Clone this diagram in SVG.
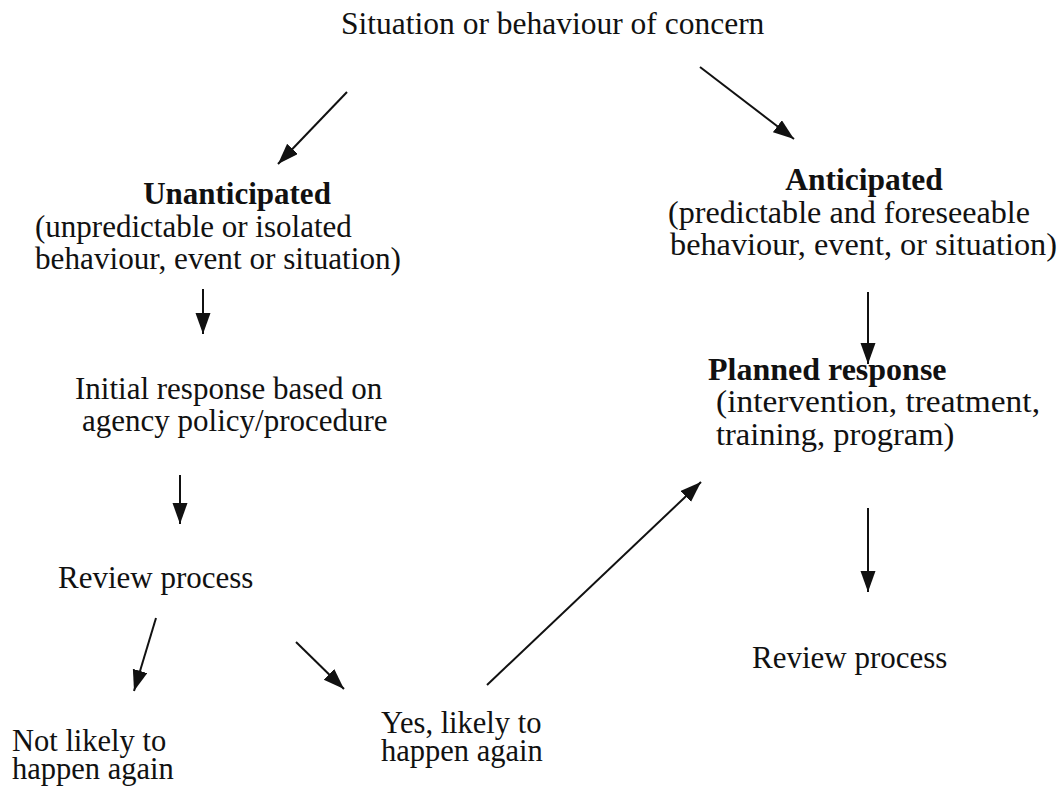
<svg xmlns="http://www.w3.org/2000/svg" width="1062" height="799" viewBox="0 0 1062 799">
<style>
text{font-family:"Liberation Serif","Times New Roman",serif;font-size:31px;fill:#111}
.b{font-weight:bold}
.r{font-size:32.5px}
.s{font-size:30.5px}
.c{stroke:#111;stroke-width:2;fill:none}
</style>
<defs>
<marker id="ah" markerUnits="userSpaceOnUse" markerWidth="22" markerHeight="16" refX="21" refY="7.5" orient="auto">
<path d="M0,0 L21,7.5 L0,15 z" fill="#111"/>
</marker>
</defs>
<rect width="1062" height="799" fill="#fff"/>
<g id="connectors">
<line class="c" x1="347" y1="92" x2="278" y2="164" marker-end="url(#ah)"/>
<line class="c" x1="700" y1="67" x2="794" y2="139" marker-end="url(#ah)"/>
<line class="c" x1="203" y1="289" x2="203" y2="334" marker-end="url(#ah)"/>
<line class="c" x1="868" y1="292" x2="868" y2="364" marker-end="url(#ah)"/>
<line class="c" x1="180" y1="475" x2="180" y2="524" marker-end="url(#ah)"/>
<line class="c" x1="156" y1="618" x2="134" y2="691" marker-end="url(#ah)"/>
<line class="c" x1="296" y1="642" x2="344" y2="689" marker-end="url(#ah)"/>
<line class="c" x1="487" y1="685" x2="701" y2="482" marker-end="url(#ah)"/>
<line class="c" x1="868" y1="508" x2="868" y2="592" marker-end="url(#ah)"/>
</g>
<g id="situation"><text x="341" y="34" style="font-size:31.5px">Situation or behaviour of concern</text></g>
<g id="unanticipated">
<text class="b" x="237" y="204" text-anchor="middle">Unanticipated</text>
<text x="35" y="237">(unpredictable or isolated</text>
<text x="35" y="269" textLength="366" lengthAdjust="spacingAndGlyphs">behaviour, event or situation)</text>
</g>
<g id="anticipated">
<text class="b" x="864" y="190" text-anchor="middle" style="font-size:31.5px">Anticipated</text>
<text class="r" x="668" y="223" textLength="362" lengthAdjust="spacingAndGlyphs">(predictable and foreseeable</text>
<text class="r" x="670" y="255" textLength="387" lengthAdjust="spacingAndGlyphs">behaviour, event, or situation)</text>
</g>
<g id="initial-response">
<text x="75" y="399">Initial response based on</text>
<text x="82" y="431">agency policy/procedure</text>
</g>
<g id="planned-response">
<text class="b" x="708" y="380" style="font-size:32px">Planned response</text>
<text class="r" x="716" y="412" textLength="324" lengthAdjust="spacingAndGlyphs">(intervention, treatment,</text>
<text class="r" x="716" y="445">training, program)</text>
</g>
<g id="review-left"><text x="58" y="588">Review process</text></g>
<g id="review-right"><text x="752" y="668">Review process</text></g>
<g id="not-likely">
<text class="s" x="12" y="751">Not likely to</text>
<text class="s" x="12" y="779">happen again</text>
</g>
<g id="yes-likely">
<text class="s" x="381" y="733">Yes, likely to</text>
<text class="s" x="381" y="761">happen again</text>
</g>
</svg>
